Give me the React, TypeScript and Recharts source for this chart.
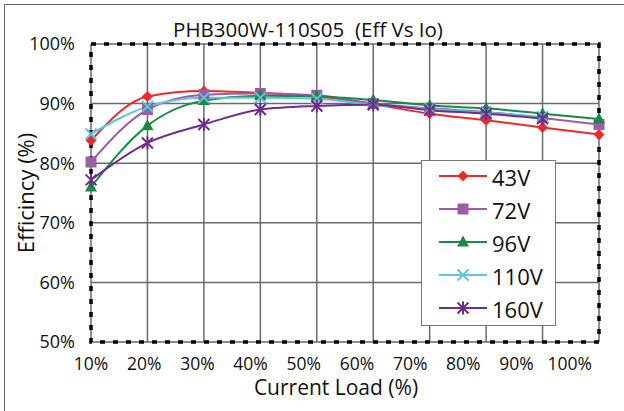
import React from "react";
import {
  LineChart,
  Line,
  XAxis,
  YAxis,
  CartesianGrid,
  ReferenceArea,
  Legend,
} from "recharts";

// load points (%), one per vertical grid line
const loads = [10, 20, 30, 40, 50, 60, 70, 80, 90, 100];
const xTickLabels = [10, 20, 30, 40, 50, 60, 70, 80, 90, 100];
const yTicks = [50, 60, 70, 80, 90, 100];

// efficiency (%) per input voltage
const eff43V = [83.8, 91.2, 92.1, 91.8, 91.2, 89.9, 88.3, 87.2, 86.0, 84.8];
const eff72V = [80.2, 89.0, 91.5, 91.7, 91.4, 90.0, 89.2, 88.6, 87.6, 86.5];
const eff96V = [76.0, 86.3, 90.5, 91.3, 91.2, 90.6, 89.7, 89.2, 88.3, 87.4];
const eff110V = [84.9, 89.5, 91.0, 91.0, 90.8, 89.8, 89.1, 88.5, 87.8, null];
const eff160V = [77.2, 83.4, 86.5, 89.0, 89.6, 89.8, 88.9, 88.3, 87.5, null];

const series = [
  { key: "v43", name: "43V", values: eff43V, color: "#ec2a2c", shape: "diamond" },
  { key: "v72", name: "72V", values: eff72V, color: "#9e5ba8", shape: "square" },
  { key: "v96", name: "96V", values: eff96V, color: "#178a45", shape: "triangle" },
  { key: "v110", name: "110V", values: eff110V, color: "#5cc6d8", shape: "x" },
  { key: "v160", name: "160V", values: eff160V, color: "#6f2c8c", shape: "star" },
];

const rows = loads.map((load, i) => {
  const r: any = { load };
  series.forEach((s) => (r[s.key] = s.values[i]));
  return r;
});

const FONT = '"Open Sans", sans-serif';

function Marker({ shape, color, cx, cy }: any) {
  if (cx == null || cy == null || isNaN(cx) || isNaN(cy)) return <g />;
  const r = 5.5;
  switch (shape) {
    case "diamond":
      return (
        <polygon
          points={`${cx},${cy - r} ${cx + r},${cy} ${cx},${cy + r} ${cx - r},${cy}`}
          fill={color}
        />
      );
    case "square":
      return <rect x={cx - 5.5} y={cy - 5.5} width={11} height={11} fill={color} />;
    case "triangle":
      return (
        <polygon
          points={`${cx},${cy - 6.5} ${cx + 6},${cy + 4.5} ${cx - 6},${cy + 4.5}`}
          fill={color}
        />
      );
    case "x":
      return (
        <g stroke={color} strokeWidth={2}>
          <line x1={cx - r} y1={cy - r} x2={cx + r} y2={cy + r} />
          <line x1={cx - r} y1={cy + r} x2={cx + r} y2={cy - r} />
        </g>
      );
    case "star":
      return (
        <g stroke={color} strokeWidth={2}>
          <line x1={cx - r} y1={cy - r} x2={cx + r} y2={cy + r} />
          <line x1={cx - r} y1={cy + r} x2={cx + r} y2={cy - r} />
          <line x1={cx} y1={cy - 6.5} x2={cx} y2={cy + 6.5} />
        </g>
      );
    default:
      return <g />;
  }
}

function LegendBox() {
  return (
    <div
      style={{
        width: 135,
        height: 166,
        background: "#fff",
        border: "1.5px solid #777",
        boxSizing: "border-box",
      }}
    >
      <svg width={133} height={163}>
        {series.map((s, i) => {
          const cy = 15 + i * 33;
          return (
            <g key={s.key}>
              <line x1={17} y1={cy} x2={65} y2={cy} stroke={s.color} strokeWidth={2} />
              <Marker shape={s.shape} color={s.color} cx={41} cy={cy} />
              <text
                x={70}
                y={cy + 1}
                dominantBaseline="central"
                fontSize={22}
                fontFamily={FONT}
                fill="#111"
              >
                {s.name}
              </text>
            </g>
          );
        })}
      </svg>
    </div>
  );
}

export default function App() {
  return (
    <div
      style={{
        position: "absolute",
        left: 0,
        top: 0,
        width: 624,
        height: 411,
        background: "#fff",
        overflow: "hidden",
        fontFamily: FONT,
      }}
    >
      <div
        style={{
          position: "absolute",
          left: 4,
          top: 4,
          width: 640,
          height: 420,
          borderLeft: "1.5px solid #666",
          borderTop: "1.5px solid #666",
        }}
      />
      <div
        style={{
          position: "absolute",
          left: 108,
          width: 400,
          top: 15,
          textAlign: "center",
          fontSize: 20.5,
          lineHeight: "28px",
          color: "#111",
          whiteSpace: "pre",
        }}
      >
        {"PHB300W-110S05  (Eff Vs Io)"}
      </div>
      <div style={{ position: "absolute", left: 0, top: 0 }}>
        <LineChart
          width={624}
          height={411}
          data={rows}
          margin={{ top: 44, right: 25, bottom: 0, left: 0 }}
        >
          <CartesianGrid xAxisId="main" stroke="#6a6a6a" strokeWidth={1.5} />
          <XAxis
            xAxisId="main"
            dataKey="load"
            type="number"
            domain={[10, 100]}
            ticks={loads}
            hide
          />
          <XAxis
            xAxisId="lbl"
            dataKey="load"
            type="number"
            domain={[10, 105.5]}
            allowDataOverflow
            ticks={xTickLabels}
            tickFormatter={(v) => `${v}%`}
            axisLine={false}
            tickLine={false}
            tickSize={0}
            tickMargin={16}
            height={69}
            interval={0}
            tick={{ fill: "#111", fontSize: 17.5, fontFamily: FONT }}
          />
          <YAxis
            domain={[50, 100]}
            ticks={yTicks}
            tickFormatter={(v) => `${v}%`}
            axisLine={false}
            tickLine={false}
            tickSize={0}
            tickMargin={16}
            width={91}
            interval={0}
            tick={{ fill: "#111", fontSize: 18, fontFamily: FONT }}
          />
          <ReferenceArea
            xAxisId="main"
            x1={10}
            x2={100}
            y1={50}
            y2={100}
            fill="none"
            fillOpacity={0}
            stroke="#000"
            strokeWidth={3.5}
            strokeDasharray="5 8"
            ifOverflow="visible"
          />
          {series.map((s) => (
            <Line
              key={s.key}
              xAxisId="main"
              dataKey={s.key}
              name={s.name}
              type="monotone"
              stroke={s.color}
              strokeWidth={2}
              isAnimationActive={false}
              dot={(p: any) => (
                <Marker
                  key={`${s.key}-${p.index}`}
                  shape={s.shape}
                  color={s.color}
                  cx={p.cx}
                  cy={p.cy}
                />
              )}
              activeDot={false}
            />
          ))}
          <Legend
            layout="vertical"
            align="center"
            verticalAlign="middle"
            content={() => <LegendBox />}
            wrapperStyle={{ position: "absolute", left: 421, top: 160, width: 135, height: 166 }}
          />
        </LineChart>
      </div>
      <div
        style={{
          position: "absolute",
          left: -75,
          top: 179,
          width: 200,
          height: 28,
          lineHeight: "28px",
          textAlign: "center",
          transform: "rotate(-90deg)",
          fontSize: 22,
          color: "#111",
        }}
      >
        Efficincy (%)
      </div>
      <div
        style={{
          position: "absolute",
          left: 236,
          top: 374,
          width: 200,
          lineHeight: "26px",
          textAlign: "center",
          fontSize: 21,
          color: "#111",
        }}
      >
        Current Load (%)
      </div>
    </div>
  );
}
